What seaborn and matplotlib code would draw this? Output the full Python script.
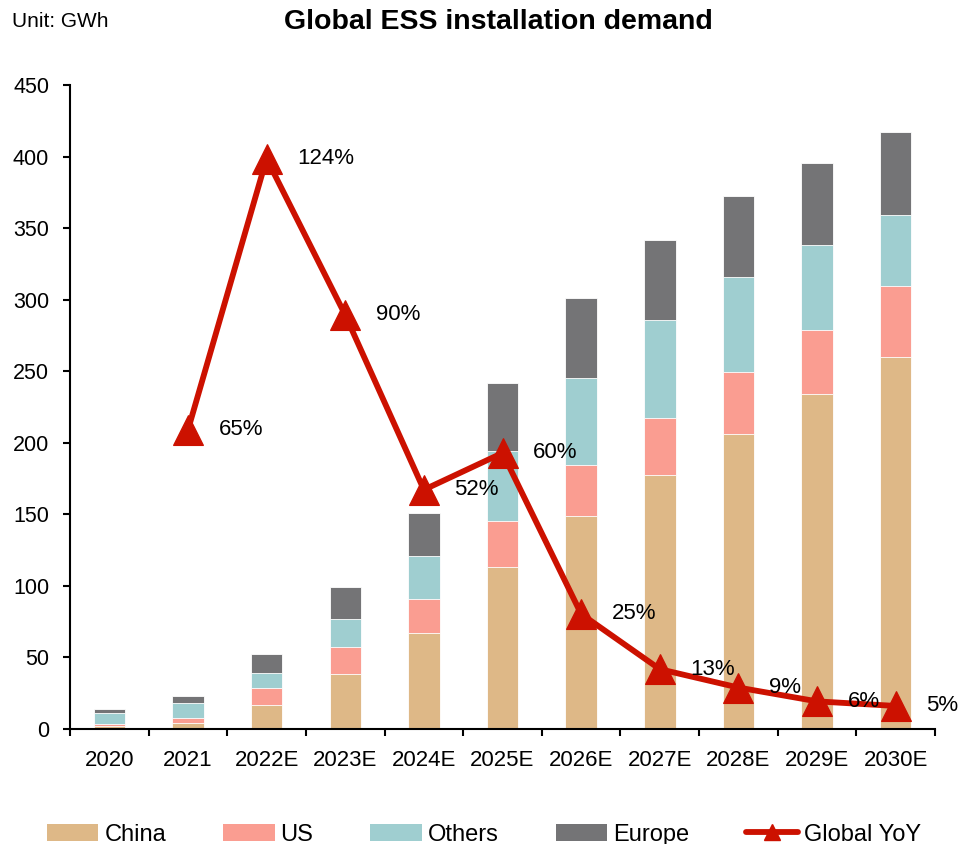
import numpy as np
import pandas as pd
import matplotlib
matplotlib.use("Agg")
import matplotlib.pyplot as plt
from matplotlib.lines import Line2D
from matplotlib.patches import Patch
import seaborn as sns

# Installation demand by region (GWh)
years = ["2020", "2021", "2022E", "2023E", "2024E", "2025E",
         "2026E", "2027E", "2028E", "2029E", "2030E"]
china = [2.3, 4.4, 16.5, 38.2, 67.0, 113.0, 148.5, 177.4, 206.4, 233.8, 260.0]
us = [1.2, 3.5, 11.9, 18.9, 23.6, 32.6, 36.2, 39.9, 42.9, 45.3, 49.2]
others = [7.8, 10.5, 10.5, 19.8, 30.5, 48.7, 60.3, 68.2, 66.8, 59.4, 50.3]
europe = [2.9, 4.9, 13.3, 22.3, 29.9, 47.5, 56.0, 56.1, 56.4, 57.0, 57.8]

# Global year-on-year growth (%), from 2021 onward
yoy_years = years[1:]
yoy = [65, 124, 90, 52, 60, 25, 13, 9, 6, 5]

sns.set_style("ticks", rc={"text.color": "black", "xtick.color": "black",
                           "ytick.color": "black", "axes.edgecolor": "black"})
plt.rcParams["font.family"] = ["Liberation Sans", "DejaVu Sans"]

c_china = "#DEB887"
c_us = "#FA9D91"
c_others = "#9FCED0"
c_europe = "#747476"
c_line = "#CC1100"

df = pd.DataFrame({"year": years, "China": china, "US": us,
                   "Others": others, "Europe": europe})
df["lvl1"] = df["China"]
df["lvl2"] = df["lvl1"] + df["US"]
df["lvl3"] = df["lvl2"] + df["Others"]
df["lvl4"] = df["lvl3"] + df["Europe"]

fig = plt.figure(figsize=(9.6, 8.44), dpi=100)
ax = fig.add_axes([0.0729, 0.1363, 0.9011, 0.763])

# Stacked bars drawn as overlapping cumulative totals
for col, color in [("lvl4", c_europe), ("lvl3", c_others),
                   ("lvl2", c_us), ("lvl1", c_china)]:
    sns.barplot(data=df, x="year", y=col, color=color, width=0.40,
                edgecolor="white", linewidth=0.6, saturation=1, ax=ax)

ax.set_xlim(-0.5, len(years) - 0.5)
ax.set_ylim(0, 450)
ax.set_yticks(np.arange(0, 451, 50))
ax.set_xlabel("")
ax.set_ylabel("")
ax.set_xticks(range(len(years)))
ax.set_xticklabels(years)
ax.set_xticks(np.arange(-0.5, len(years), 1.0), minor=True)
ax.tick_params(axis="x", which="major", length=0, labelsize=16, pad=15)
ax.tick_params(axis="x", which="minor", length=5, width=1.5, direction="out")
ax.tick_params(axis="y", length=5, width=1.5, labelsize=15.5, pad=10)
for s in ["top", "right"]:
    ax.spines[s].set_visible(False)
for s in ["left", "bottom"]:
    ax.spines[s].set_linewidth(1.5)
    ax.spines[s].set_color("black")

# Growth line on a hidden secondary axis
ax2 = ax.twinx()
x_pos = [years.index(y) for y in yoy_years]
yoy_frac = [v / 100 for v in yoy]
sns.lineplot(x=x_pos, y=yoy_frac, ax=ax2, color=c_line, linewidth=4.2,
             marker="^", markersize=21, markeredgecolor=c_line,
             markeredgewidth=0.8, markerfacecolor=c_line, legend=False)
ax2.set_ylim(0, 1.4)
ax2.set_xlim(-0.5, len(years) - 0.5)
ax2.set_yticks([])
ax2.set_ylabel("")
for s in ax2.spines.values():
    s.set_visible(False)

for xp, v, f in zip(x_pos, yoy, yoy_frac):
    ax2.annotate(f"{v}%", xy=(xp, f), xytext=(22, 0),
                 textcoords="offset points", ha="left", va="center",
                 fontsize=16, color="black")

fig.text(0.012, 0.974, "Unit: GWh", fontsize=15, ha="left", va="center")
fig.text(0.519, 0.974, "Global ESS installation demand", fontsize=20.5,
         fontweight="bold", ha="center", va="center")

handles = [
    Patch(facecolor=c_china, edgecolor="none", label="China"),
    Patch(facecolor=c_us, edgecolor="none", label="US"),
    Patch(facecolor=c_others, edgecolor="none", label="Others"),
    Patch(facecolor=c_europe, edgecolor="none", label="Europe"),
    Line2D([0], [0], color=c_line, linewidth=4.2, marker="^",
           markersize=12, label="Global YoY"),
]
fig.legend(handles=handles, loc="center", bbox_to_anchor=(0.504, 0.011),
           ncol=5, frameon=False, fontsize=17, handlelength=2.2,
           handleheight=0.7, handletextpad=0.25, columnspacing=2.4,
           borderpad=0, borderaxespad=0)

fig.savefig("out.png", dpi=100)
